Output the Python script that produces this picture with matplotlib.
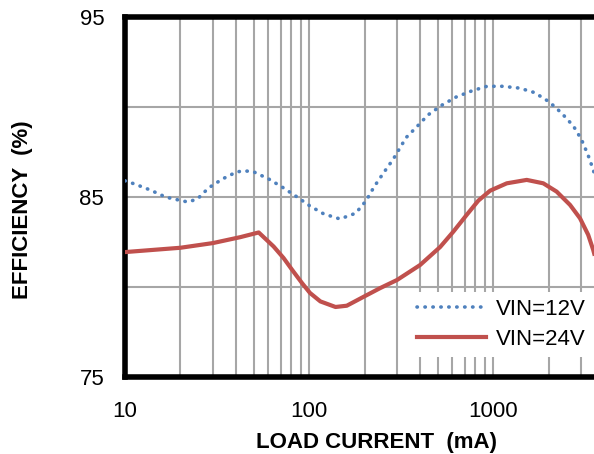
import matplotlib
matplotlib.use('Agg')
import matplotlib.pyplot as plt
from matplotlib.ticker import LogLocator, NullFormatter, FixedLocator

plt.rcParams['font.family'] = ['Liberation Sans', 'DejaVu Sans']

# VIN=12V readings (load current mA, efficiency %)
i_12v = [10, 11.3, 13.7, 16.6, 18.2, 22, 24.8, 28.4, 33.8, 40.5, 44.9, 49.9, 60.3, 71.4, 86,
         101, 120, 147, 179, 204, 225, 253, 286, 336, 384, 442, 525, 627, 766, 923,
         1122, 1387, 1675, 2014, 2344, 2722, 3008, 3268, 3490, 3530]
eff_12v = [85.9, 85.72, 85.39, 85.0, 84.9, 84.72, 84.9, 85.5, 86.0, 86.4, 86.45, 86.4, 86.0, 85.55, 85.0,
           84.5, 84.06, 83.78, 84.1, 84.8, 85.56, 86.33, 87.1, 88.3, 88.9, 89.56, 90.1, 90.55, 90.9, 91.15,
           91.15, 91.05, 90.8, 90.28, 89.67, 88.94, 88.2, 87.33, 86.5, 86.3]

# VIN=24V readings
i_24v = [10, 20, 30, 42.3, 53.2, 64.1, 72.6, 80.7, 91.4, 101, 115, 139, 160, 197, 243, 300, 400,
         514, 607, 717, 829, 960, 1183, 1518, 1867, 2206, 2609, 2954, 3273, 3483, 3530]
eff_24v = [81.94, 82.18, 82.44, 82.77, 83.03, 82.25, 81.61, 80.96, 80.22, 79.67, 79.2, 78.89, 78.96,
           79.45, 79.94, 80.39, 81.22, 82.22, 83.08, 84.01, 84.8, 85.35, 85.76, 85.95, 85.76, 85.3,
           84.56, 83.82, 82.9, 82.07, 81.85]

x_ticks = [10, 100, 1000]
y_ticks = [75, 85, 95]
y_minor = [80, 90]


def main():
    fig = plt.figure(figsize=(5.94, 4.54), dpi=100)
    ax = fig.add_axes([125 / 594, 77 / 454, 469 / 594, 360 / 454])

    ax.plot(i_12v, eff_12v, color='#4f81bd', linewidth=2.6,
            linestyle=(0, (0.1, 2.1)), dash_capstyle='round', label='VIN=12V', zorder=3)
    ax.plot(i_24v, eff_24v, color='#c0504d', linewidth=3, label='VIN=24V', zorder=3)

    ax.set_xscale('log')
    ax.set_xlim(10, 3520)
    ax.set_ylim(75, 95)
    ax.xaxis.set_major_locator(FixedLocator(x_ticks))
    ax.set_xticklabels([str(t) for t in x_ticks])
    ax.xaxis.set_minor_locator(LogLocator(base=10, subs=range(2, 10)))
    ax.xaxis.set_minor_formatter(NullFormatter())
    ax.set_yticks(y_ticks)
    ax.set_yticks(y_minor, minor=True)

    ax.grid(which='both', color='#a6a6a6', linewidth=1.5)
    ax.set_axisbelow(True)
    ax.tick_params(which='both', length=0, labelsize=16)
    ax.tick_params(axis='x', pad=17)
    ax.tick_params(axis='y', pad=15)

    for side in ['left', 'top', 'bottom']:
        ax.spines[side].set_linewidth(4)
        ax.spines[side].set_color('black')
    ax.spines['right'].set_visible(False)

    ax.set_xlabel('LOAD CURRENT  (mA)', fontsize=16, fontweight='bold')
    ax.xaxis.set_label_coords(0.537, -0.154, transform=ax.transAxes)
    ax.xaxis.label.set_va('top')
    ax.set_ylabel('EFFICIENCY  (%)', fontsize=16, fontweight='bold')
    ax.yaxis.set_label_coords(-0.2175, 0.464, transform=ax.transAxes)
    ax.yaxis.label.set_va('center')

    leg = ax.legend(loc='upper left', bbox_to_anchor=(0.608, 0.235), fontsize=16,
                    frameon=True, facecolor='white', edgecolor='none', framealpha=1,
                    fancybox=False, handlelength=3.1, handletextpad=0.45,
                    labelspacing=0.4, borderpad=0.3, borderaxespad=0)

    fig.savefig('out.png', dpi=100)


main()
